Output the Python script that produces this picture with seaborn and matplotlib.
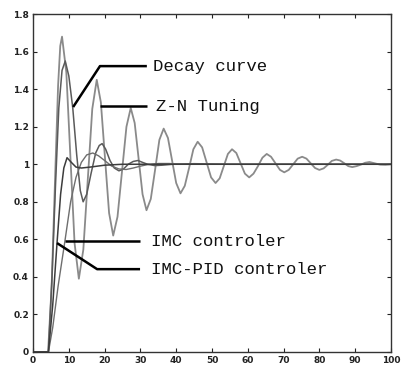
"""
step responses of the four tuning methods, redrawn from a scanned figure
"""
import matplotlib
matplotlib.use("Agg")
import matplotlib.pyplot as plt
import seaborn as sns

# Z-N tuning: large, slowly decaying oscillation
zn_t = [0, 4.2, 5.2, 6.2, 7.0, 7.6, 8.1, 9.3, 10.45, 11.6, 12.8,
        14.05, 15.3, 16.55, 17.8, 18.95, 20.1, 21.25, 22.4,
        23.6, 24.85, 26.1, 27.3, 28.4, 29.5, 30.6, 31.7,
        32.9, 34.1, 35.3, 36.5, 37.7, 38.85, 40.0, 41.2,
        42.4, 43.6, 44.8, 46.0, 47.25, 48.5, 49.75, 51.0,
        52.15, 53.3, 54.45, 55.6, 56.8, 58.0, 59.2, 60.4,
        61.6, 62.85, 64.1, 65.3, 66.5, 67.75, 69.0, 70.2,
        71.45, 72.7, 73.95, 75.2, 76.4, 77.6, 78.8, 80.0,
        81.2, 82.35, 83.5, 84.7, 85.8, 87.0, 88.1, 89.2,
        90.4, 91.6, 92.8, 94.0, 95.5, 97.0, 98.5, 100]
zn_y = [0, 0, 0.35, 0.95, 1.42, 1.63, 1.68, 1.49, 1.035, 0.58, 0.39,
        0.545, 0.92, 1.295, 1.45, 1.33, 1.035, 0.74, 0.62,
        0.72, 0.96, 1.20, 1.30, 1.22, 1.03, 0.84, 0.755,
        0.815, 0.97, 1.13, 1.19, 1.14, 1.02, 0.90, 0.845,
        0.885, 0.98, 1.08, 1.12, 1.09, 1.01, 0.93, 0.90,
        0.925, 0.99, 1.055, 1.08, 1.06, 1.005, 0.95, 0.93,
        0.95, 0.99, 1.035, 1.055, 1.04, 1.005, 0.97, 0.957,
        0.97, 1.0, 1.03, 1.04, 1.03, 1.005, 0.98, 0.97,
        0.978, 0.997, 1.018, 1.025, 1.02, 1.005, 0.99, 0.985,
        0.99, 0.998, 1.008, 1.012, 1.005, 0.998, 0.997, 1.0]

# 4:1 decay curve
decay_t = [0, 4.3, 5.3, 6.3, 7.2, 8.1, 9.0, 10.0, 11.1, 12.2, 13.2, 14.0,
           15.0, 16.2, 17.5, 18.5, 19.3, 20.3, 21.5, 22.7, 24.0, 25.3,
           26.6, 28.0, 29.3, 30.6, 32.0, 34.0, 36.0, 39.0, 45.0, 55.0, 100]
decay_y = [0, 0, 0.4, 0.9, 1.3, 1.5, 1.55, 1.47, 1.30, 1.05, 0.86, 0.80,
           0.84, 0.95, 1.06, 1.10, 1.11, 1.08, 1.02, 0.98, 0.965, 0.975,
           1.0, 1.015, 1.02, 1.01, 1.0, 0.993, 0.995, 1.0, 1.003, 1.0, 1.0]

# IMC controller: slower rise, one soft overshoot
imc_t = [0, 4.3, 5.5, 7.0, 8.9, 10.5, 12.0, 13.5, 15.0, 16.7, 18.3, 20.0,
         22.0, 24.0, 26.0, 28.0, 30.0, 32.0, 35.0, 38.0, 42.0, 100]
imc_y = [0, 0, 0.13, 0.35, 0.59, 0.80, 0.93, 1.01, 1.05, 1.06, 1.045, 1.02,
         0.99, 0.975, 0.972, 0.98, 0.99, 0.998, 1.004, 1.004, 1.0, 1.0]

# IMC-PID controller: fast rise, small overshoot
pid_t = [0, 4.3, 5.5, 6.7, 7.7, 8.6, 9.5, 10.7, 12.0, 13.5, 16.0, 20.0,
         25.0, 100]
pid_y = [0, 0, 0.25, 0.58, 0.84, 0.98, 1.035, 1.01, 0.985, 0.98, 0.985,
         0.995, 1.0, 1.0]

x_ticks = [0, 10, 20, 30, 40, 50, 60, 70, 80, 90, 100]
y_ticks = [0, 0.2, 0.4, 0.6, 0.8, 1.0, 1.2, 1.4, 1.6, 1.8]
y_tick_labels = ['0', '0.2', '0.4', '0.6', '0.8', '1', '1.2', '1.4', '1.6', '1.8']

labels = ['Decay curve', 'Z-N Tuning', 'IMC controler', 'IMC-PID controler']

sns.set_style("ticks")
plt.rcParams['font.family'] = ['DejaVu Sans']

fig = plt.figure(figsize=(4.03, 3.72), dpi=100)
ax = fig.add_axes([0.082, 0.054, 0.888, 0.908])

sns.lineplot(x=zn_t, y=zn_y, ax=ax, color='#8a8a8a', linewidth=1.3,
             sort=False, estimator=None)
sns.lineplot(x=decay_t, y=decay_y, ax=ax, color='#5a5a5a', linewidth=1.1,
             sort=False, estimator=None)
sns.lineplot(x=imc_t, y=imc_y, ax=ax, color='#6e6e6e', linewidth=1.0,
             sort=False, estimator=None)
sns.lineplot(x=pid_t, y=pid_y, ax=ax, color='#3c3c3c', linewidth=1.1,
             sort=False, estimator=None)

# leader lines for the labels (data coords)
leaders = [
    ([11.2, 18.7, 31.8], [1.305, 1.523, 1.523]),
    ([18.7, 31.8], [1.31, 1.31]),
    ([8.9, 29.9], [0.59, 0.59]),
    ([6.7, 17.9, 29.9], [0.58, 0.441, 0.441]),
]
text_pos = [(33.5, 1.523), (34.4, 1.31), (33.0, 0.59), (33.0, 0.441)]
for (lx, ly), (tx, ty), lab in zip(leaders, text_pos, labels):
    ax.plot(lx, ly, color='black', linewidth=1.8, solid_capstyle='butt')
    ax.text(tx, ty, lab, fontsize=12.5, family=['Liberation Mono', 'DejaVu Sans Mono'],
            va='center', ha='left', color='#111111')

ax.set_xlim(0, 100)
ax.set_ylim(0, 1.8)
ax.set_xticks(x_ticks)
ax.set_yticks(y_ticks)
ax.set_yticklabels(y_tick_labels)
ax.tick_params(direction='in', length=3, width=0.8, top=True, right=True,
               labelsize=6.5, pad=3, colors='#222222')
for lab in ax.get_xticklabels() + ax.get_yticklabels():
    lab.set_fontweight('bold')
for side in ax.spines.values():
    side.set_visible(True)
    side.set_color('#333333')
    side.set_linewidth(1.0)
ax.set_xlabel('')
ax.set_ylabel('')

fig.savefig('out.png', dpi=100)
